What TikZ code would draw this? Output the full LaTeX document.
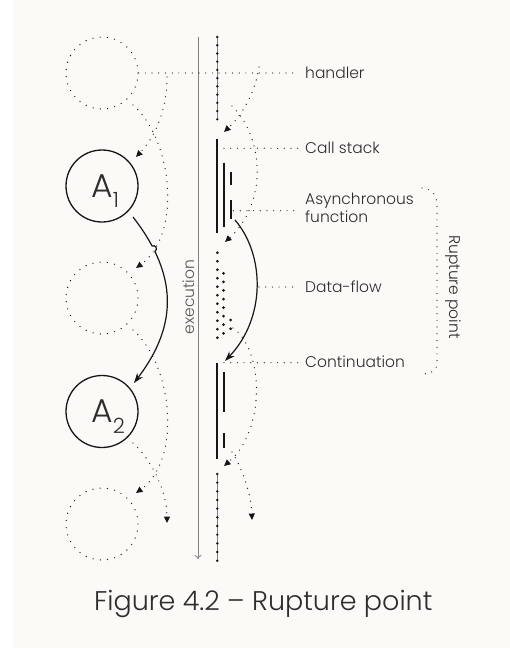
\documentclass[tikz,border=0pt]{standalone}
\usepackage{fontspec}
\setmainfont{Poppins Light}
\usetikzlibrary{arrows.meta,intersections}
\definecolor{bg}{RGB}{251,250,246}
\definecolor{ink}{RGB}{22,22,22}
\definecolor{txt}{RGB}{45,45,45}
\definecolor{exe}{RGB}{128,128,128}
\definecolor{exetxt}{RGB}{85,85,85}
\newcommand\idxsub[1]{\rlap{\smash{\raisebox{-10.5pt}{\fontsize{21}{21}\selectfont #1}}}}
\begin{document}
\begin{tikzpicture}[x=1pt,y=-1pt,
  fdot/.style={ink,line width=1.3pt,line cap=round,dash pattern=on 0pt off 6.6pt},
  ldot/.style={ink,line width=1.2pt,line cap=round,dash pattern=on 0pt off 6.7pt},
  darr/.style={fdot,-{Triangle[length=6.5pt,width=6pt]}},
  sarr/.style={ink,line width=1.2pt,-{Stealth[length=10pt,width=7pt]}},
  hcirc/.style={circle,draw=ink,line width=1.35pt,line cap=round,dash pattern=on 0pt off 7.3pt,minimum size=72pt,inner sep=0pt},
  acirc/.style={circle,draw=ink,line width=1.3pt,minimum size=72pt,inner sep=0pt,text=txt,font=\fontsize{33}{33}\selectfont},
  lbl/.style={anchor=base west,text=txt,font=\fontsize{15.5}{18.4}\selectfont,inner xsep=6pt,inner ysep=0pt},
  bar/.style={ink,line width=2.2pt},
  thread/.style={exe,line width=0.7pt},
  bigdot/.style={ink}
]
\useasboundingbox (0,0) rectangle (510,648);
\fill[bg] (13,0) rectangle (510,648);

% execution axis
\coordinate (ex0) at (198,37);
\coordinate (ex1) at (198,559);
\draw[exe,line width=0.8pt,-{To[length=4pt,width=7pt]}] (ex0) -- (ex1);
\node[rotate=90,text=exetxt,font=\fontsize{15.5}{17}\selectfont,inner sep=0pt] (exl) at (188.5,297) {execution};

% circles
\node[hcirc] (h1) at (102,73) {};
\node[acirc] (a1) at (102,186) {A\idxsub{1}};
\node[hcirc] (h2) at (102,298) {};
\node[acirc] (a2) at (102,411.5) {A\idxsub{2}};
\node[hcirc] (h3) at (102,524) {};

% handler stacks (beads on a thread)
\coordinate (hs0) at (217.3,37);
\coordinate (hs1) at (217.3,119.3);
\coordinate (hs2) at (217.3,474);
\coordinate (hs3) at (217.3,560.7);
\draw[thread] (hs0) -- (hs1);
\draw[thread] (hs2) -- (hs3);
\foreach \i in {0,...,10} \fill[bigdot] (217.3,37+8.23*\i) circle (1.35);
\foreach \i in {0,...,10} \fill[bigdot] (217.3,474+8.67*\i) circle (1.35);

% call stack bars
\draw[bar] (217.3,139.3) -- (217.3,233.3);
\draw[bar] (223.7,162.7) -- (223.7,226.7);
\draw[bar] (230.7,171.7) -- (230.7,185);
\draw[bar] (230.7,200) -- (230.7,219.3);
% continuation bars
\draw[bar] (217.3,363.3) -- (217.3,459.3);
\draw[bar] (223.7,371.7) -- (223.7,411.7);
\draw[bar] (223.7,433.3) -- (223.7,448.3);

% data-flow dots
\foreach \i in {0,...,10} \fill[bigdot] (217.3,252.7+8.5*\i) circle (1.5);
\foreach \i in {0,...,7} \fill[bigdot] (223.5,273.3+8.57*\i) circle (1.5);
\fill[bigdot] (230.7,320) circle (1.5);
\fill[bigdot] (230.7,328.7) circle (1.5);

% labels
\node[lbl] (lh) at (299,78.3) {handler};
\node[lbl] (lc) at (299,153.3) {Call stack};
\node[lbl,align=left] (la) at (299,222.7) {Asynchronous\\function};
\node[lbl] (ld) at (299,292.7) {Data-flow};
\node[lbl] (lk) at (299,367.7) {Continuation};

% label leaders
\coordinate (jl) at (167,73);
\coordinate (jr) at (259,73);
\draw[ldot] (h1.east) -- (jl) -- (jr) -- (299,73);
\coordinate (csx) at (224,148.3);
\draw[ldot] (csx) -- (299,148.3);
\coordinate (asx) at (233.5,210.7);
\draw[ldot] (asx) -- (299,210.7);
\coordinate (dfx) at (259,287);
\draw[ldot] (dfx) -- (299,287);
\coordinate (cnx) at (224,362.7);
\draw[ldot] (cnx) -- (299,362.7);

% rupture brace
\coordinate (rb0) at (422,188);
\coordinate (rb1) at (423,374);
\draw[ldot] (rb0) .. controls (433,189) and (437,196) .. (437,206) -- (437,362) .. controls (437,370) and (433,373) .. (rb1);
\node[rotate=-90,text=txt,font=\fontsize{15.5}{17}\selectfont,inner sep=0pt] (rp) at (453.5,287) {Rupture point};

% left dotted curves
\coordinate (c1s) at (133,105);
\coordinate (c1e) at (136,268);
\draw[darr,name path=c1] (c1s) .. controls (173,140) and (182,235) .. (c1e);
\coordinate (c2s) at (167,77);
\coordinate (c2e) at (136,157);
\draw[darr] (c2s) .. controls (167,115) and (152,140) .. (c2e);
\coordinate (c3s) at (133,330);
\coordinate (c3e) at (136,493);
\draw[darr] (c3s) .. controls (173,365) and (182,460) .. (c3e);
\coordinate (c4s) at (133,443);
\coordinate (c4e) at (167,523);
\draw[darr] (c4s) .. controls (150,458) and (167,490) .. (c4e);

% solid arc A1 -> A2
\coordinate (s1s) at (133,217);
\coordinate (s1e) at (134,383);
\draw[sarr,name path=s1] (s1s) .. controls (178,275) and (178,325) .. (s1e);
\path[name intersections={of=c1 and s1,by=hop}];
\fill[bg] (hop) circle (3);
\draw[ink,line width=1.2pt] (hop) ++(-120:3) arc[start angle=-120,end angle=60,radius=3];

% right dotted curves
\coordinate (r1e) at (224,132);
\draw[darr] (259,67) .. controls (255,95) and (240,117) .. (r1e);
\coordinate (r2s) at (232,106);
\coordinate (r2e) at (225,242);
\draw[darr] (r2s) .. controls (266,140) and (266,205) .. (r2e);
\coordinate (r3s) at (233,328);
\coordinate (r3e) at (224,466);
\draw[darr] (r3s) .. controls (264,350) and (266,430) .. (r3e);
\coordinate (r4s) at (232,452);
\coordinate (r4e) at (252,520);
\draw[darr] (r4s) .. controls (240,465) and (251,490) .. (r4e);

% solid arc async -> continuation
\coordinate (s2s) at (235,220);
\coordinate (s2e) at (225,361);
\draw[sarr] (s2s) .. controls (265,255) and (266,318) .. (s2e);

% caption
\node[anchor=base,text=txt,font=\fontsize{27}{31}\selectfont,inner sep=0pt] (cap) at (263.3,610) {Figure 4.2 – Rupture point};
\end{tikzpicture}
\end{document}
